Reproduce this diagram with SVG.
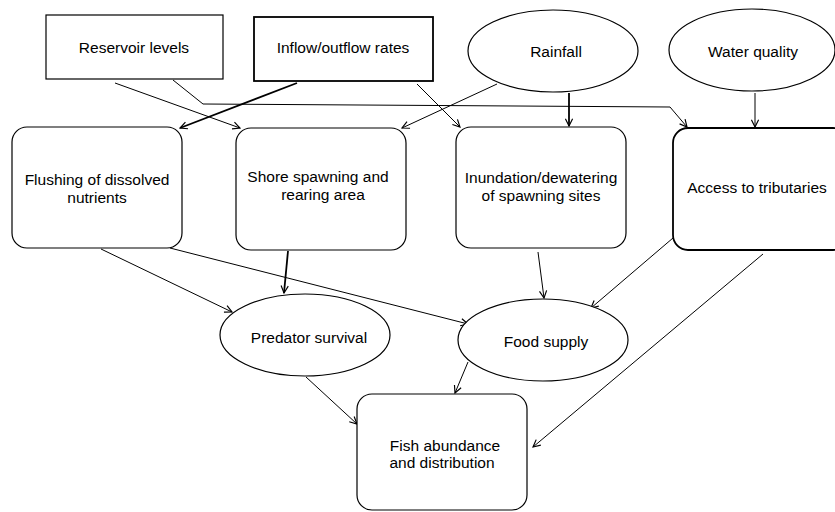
<svg xmlns="http://www.w3.org/2000/svg" width="835" height="512" viewBox="0 0 835 512">
<style>
.box{fill:#fff;stroke:#000;stroke-width:1.2}
.bold{stroke-width:1.8}
.t{font-family:"Liberation Sans",Arial,sans-serif;font-size:15.5px;fill:#000;text-anchor:middle}
.c{fill:none;stroke:#000;stroke-width:1;marker-end:url(#ah)}
.ct{fill:none;stroke:#000;stroke-width:1.8;marker-end:url(#ah)}
</style>
<defs>
<marker id="ah" viewBox="0 0 10 10" refX="9" refY="5" markerWidth="9" markerHeight="9" markerUnits="userSpaceOnUse" orient="auto">
<path d="M1,1 L9,5 L1,9" fill="none" stroke="#000" stroke-width="1.3"/>
</marker>
</defs>
<rect width="835" height="512" fill="#fff"/>
<g id="connectors">
<line class="c" x1="115" y1="83" x2="240" y2="128"/>
<polyline class="c" points="173,80 203,104 670,107 687,127"/>
<line class="ct" x1="297" y1="83" x2="180" y2="128"/>
<line class="c" x1="417" y1="84" x2="460" y2="127"/>
<line class="c" x1="497" y1="84" x2="402" y2="128"/>
<line class="ct" x1="569" y1="93" x2="569" y2="126"/>
<line class="c" x1="755" y1="93" x2="755" y2="127"/>
<line class="ct" x1="288" y1="251" x2="284" y2="293"/>
<line class="c" x1="101" y1="249" x2="232" y2="312"/>
<line class="c" x1="170" y1="248" x2="468" y2="324"/>
<line class="c" x1="538" y1="252" x2="544" y2="298"/>
<line class="c" x1="673" y1="238" x2="591" y2="308"/>
<line class="c" x1="763" y1="254" x2="533" y2="447"/>
<line class="c" x1="468" y1="362" x2="455" y2="393"/>
<line class="c" x1="306" y1="377" x2="357" y2="424"/>
</g>
<g id="reservoir">
<rect class="box" x="46" y="15" width="177" height="64"/>
<text class="t" x="134" y="53">Reservoir levels</text>
</g>
<g id="inflow">
<rect class="box bold" x="254" y="17" width="179" height="64"/>
<text class="t" x="343" y="53">Inflow/outflow rates</text>
</g>
<g id="rainfall">
<ellipse class="box" cx="553" cy="51" rx="85" ry="41"/>
<text class="t" x="556" y="57">Rainfall</text>
</g>
<g id="waterquality">
<ellipse class="box" cx="752" cy="50" rx="83" ry="41"/>
<text class="t" x="753" y="57">Water quality</text>
</g>
<g id="flushing">
<rect class="box" x="12" y="127" width="170" height="121" rx="15"/>
<text class="t" x="97" y="185">Flushing of dissolved</text>
<text class="t" x="97" y="203">nutrients</text>
</g>
<g id="shore">
<rect class="box" x="236" y="128" width="170" height="122" rx="15"/>
<text class="t" x="318" y="182">Shore spawning and</text>
<text class="t" x="323" y="200">rearing area</text>
</g>
<g id="inundation">
<rect class="box" x="456" y="127" width="170" height="121" rx="15"/>
<text class="t" x="541" y="183">Inundation/dewatering</text>
<text class="t" x="541" y="201">of spawning sites</text>
</g>
<g id="access">
<rect class="box bold" x="673" y="128" width="175" height="122" rx="15"/>
<text class="t" x="757" y="193">Access to tributaries</text>
</g>
<g id="predator">
<ellipse class="box" cx="305" cy="335" rx="85" ry="41"/>
<text class="t" x="309" y="343">Predator survival</text>
</g>
<g id="food">
<ellipse class="box" cx="543" cy="340" rx="85" ry="41"/>
<text class="t" x="546" y="347">Food supply</text>
</g>
<g id="fish">
<rect class="box" x="357" y="394" width="170" height="116" rx="15"/>
<text class="t" x="445" y="451">Fish abundance</text>
<text class="t" x="442" y="468">and distribution</text>
</g>
</svg>
